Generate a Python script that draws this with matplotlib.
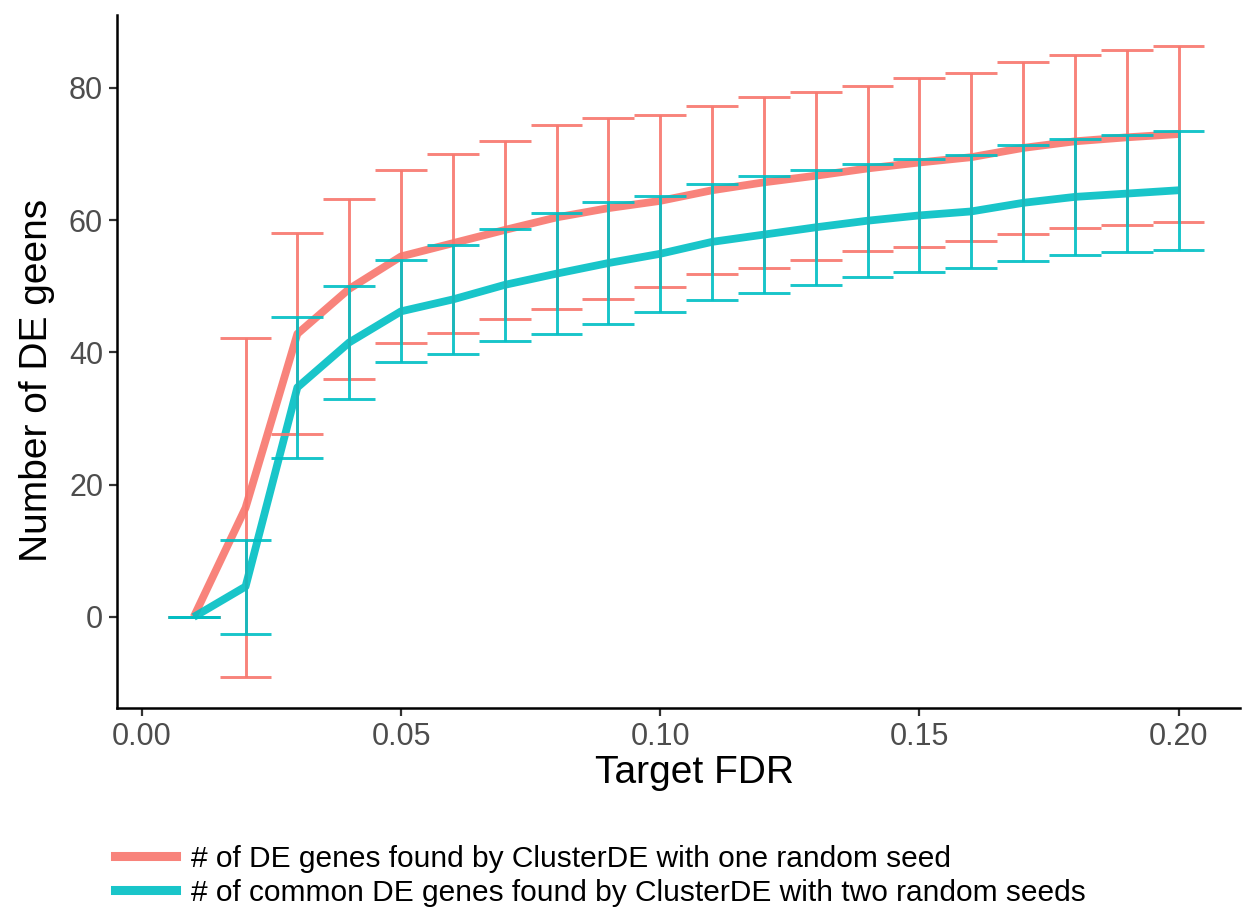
import numpy as np
import matplotlib
matplotlib.use("Agg")
import matplotlib.pyplot as plt
from matplotlib.lines import Line2D

plt.rcParams['font.family'] = ['Liberation Sans', 'DejaVu Sans']

# Target FDR levels
fdr = [0.01, 0.02, 0.03, 0.04, 0.05, 0.06, 0.07, 0.08, 0.09, 0.10,
       0.11, 0.12, 0.13, 0.14, 0.15, 0.16, 0.17, 0.18, 0.19, 0.20]

# One random seed: mean and half-width of error bar
one_mean = [0.0, 16.5, 42.8, 49.6, 54.5, 56.5, 58.5, 60.4, 61.8, 62.9,
            64.5, 65.7, 66.7, 67.8, 68.7, 69.5, 70.9, 71.9, 72.5, 73.0]
one_err = [0.0, 25.6, 15.2, 13.6, 13.1, 13.5, 13.5, 13.9, 13.7, 13.0,
           12.7, 12.9, 12.7, 12.5, 12.7, 12.7, 13.0, 13.1, 13.2, 13.3]

# Common genes over two random seeds
two_mean = [0.0, 4.6, 34.7, 41.5, 46.2, 48.0, 50.2, 51.9, 53.5, 54.9,
            56.7, 57.8, 58.9, 59.9, 60.7, 61.3, 62.6, 63.5, 64.0, 64.5]
two_err = [0.0, 7.1, 10.7, 8.5, 7.7, 8.2, 8.5, 9.1, 9.2, 8.8,
           8.8, 8.9, 8.7, 8.5, 8.5, 8.6, 8.8, 8.8, 8.9, 9.0]

labels = ["# of DE genes found by ClusterDE with one random seed",
          "# of common DE genes found by ClusterDE with two random seeds"]
colors = ["#F8766D", "#00BFC4"]

fig = plt.figure(figsize=(12.48, 9.07), dpi=100)
ax = fig.add_axes([0.09375, 0.2194, 0.9, 0.7641])

x = np.array(fdr)
series = [(np.array(one_mean), np.array(one_err)),
          (np.array(two_mean), np.array(two_err))]

for (m, e), c in zip(series, colors):
    ax.plot(x, m, color=c, lw=5.6, alpha=0.9, solid_capstyle='butt', zorder=2)

cap = 0.005
for (m, e), c in zip(series, colors):
    ax.vlines(x, m - e, m + e, color=c, lw=2.1, alpha=0.9, zorder=3)
    ax.hlines(m - e, x - cap, x + cap, color=c, lw=2.1, alpha=0.9, zorder=3)
    ax.hlines(m + e, x - cap, x + cap, color=c, lw=2.1, alpha=0.9, zorder=3)

ax.set_xlim(-0.0048, 0.2119)
ax.set_ylim(-13.76, 91.0)
ax.set_xticks([0.00, 0.05, 0.10, 0.15, 0.20])
ax.set_xticklabels(["0.00", "0.05", "0.10", "0.15", "0.20"])
ax.set_yticks([0, 20, 40, 60, 80])

for s in ['top', 'right']:
    ax.spines[s].set_visible(False)
for s in ['left', 'bottom']:
    ax.spines[s].set_linewidth(1.8)
    ax.spines[s].set_color('black')

ax.tick_params(axis='both', direction='out', length=6, width=1.6,
               color='#333333', labelcolor='#4D4D4D', labelsize=22, pad=4)

ax.set_xlabel("Target FDR", fontsize=28)
ax.set_ylabel("Number of DE geens", fontsize=28)
ax.xaxis.set_label_coords(0.514, -0.068)
ax.yaxis.set_label_coords(-0.055, 0.473)

handles = [Line2D([0], [0], color=c, lw=6.5, alpha=0.9) for c in colors]
fig.legend(handles, labels, loc='center left', bbox_to_anchor=(0.0921, 0.0345),
           bbox_transform=fig.transFigure, frameon=False, fontsize=21.5,
           handlelength=2.05, handletextpad=0.5, labelspacing=0.2,
           borderpad=0.0, borderaxespad=0.0)

fig.savefig("out.png", dpi=100)
